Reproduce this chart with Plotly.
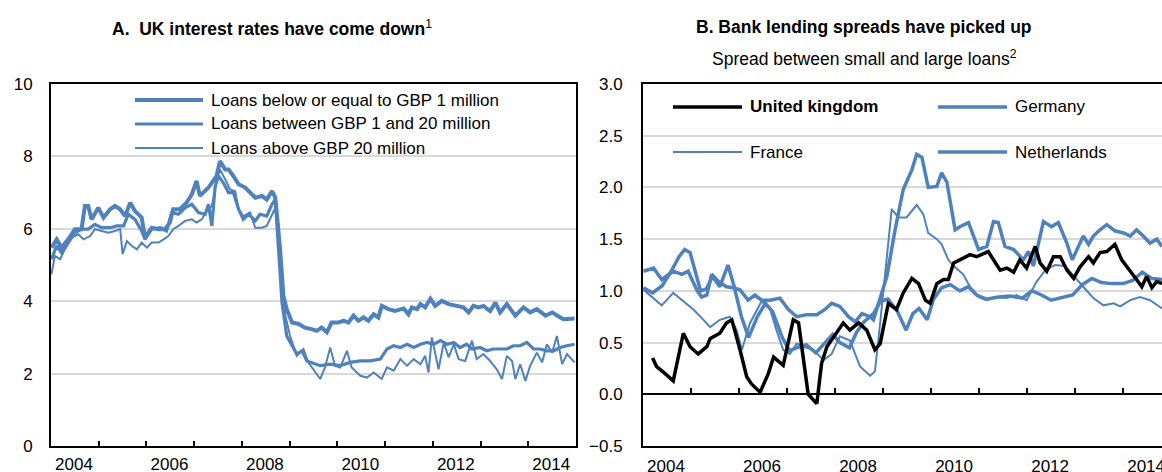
import plotly.graph_objects as go

BLUE = "#4F81BD"
FONT = "Liberation Sans, Arial, sans-serif"

# ---- Panel A: UK interest rates (decimal years, %) ----
below1m_year = [2004.01, 2004.12, 2004.22, 2004.36, 2004.50, 2004.64, 2004.71, 2004.78, 2004.85, 2004.99,
                2005.10, 2005.24, 2005.34, 2005.45, 2005.55, 2005.66, 2005.76, 2005.90, 2005.97, 2006.11,
                2006.25, 2006.39, 2006.49, 2006.56, 2006.70, 2006.84, 2006.95, 2007.05, 2007.12, 2007.30,
                2007.47, 2007.54, 2007.65, 2007.72, 2007.82, 2007.93, 2008.07, 2008.17, 2008.28, 2008.42,
                2008.52, 2008.63, 2008.70, 2008.80, 2008.87, 2008.94, 2009.05, 2009.19, 2009.32, 2009.46,
                2009.57, 2009.67, 2009.78, 2009.88, 2010.02, 2010.13, 2010.23, 2010.34, 2010.44, 2010.55,
                2010.65, 2010.76, 2010.86, 2010.93, 2011.07, 2011.21, 2011.39, 2011.49, 2011.56, 2011.67,
                2011.74, 2011.84, 2011.95, 2012.05, 2012.19, 2012.33, 2012.54, 2012.64, 2012.75, 2012.85,
                2012.96, 2013.06, 2013.20, 2013.31, 2013.41, 2013.55, 2013.73, 2013.90, 2014.04, 2014.18,
                2014.36, 2014.50, 2014.67, 2014.74, 2014.97]
below1m_rate = [5.48, 5.71, 5.48, 5.71, 5.99, 5.99, 6.63, 6.63, 6.26, 6.58,
                6.31, 6.54, 6.63, 6.54, 6.35, 6.72, 6.49, 6.31, 5.76, 6.03,
                5.99, 5.99, 6.17, 6.54, 6.54, 6.72, 6.95, 7.32, 6.91, 7.14,
                7.46, 7.87, 7.64, 7.64, 7.46, 7.23, 7.14, 7.00, 6.86, 6.91,
                6.81, 7.04, 6.86, 5.43, 4.15, 3.78, 3.41, 3.37, 3.27, 3.23,
                3.18, 3.27, 3.14, 3.41, 3.41, 3.46, 3.41, 3.60, 3.46, 3.55,
                3.46, 3.64, 3.55, 3.87, 3.78, 3.73, 3.80, 3.64, 3.83, 3.78,
                3.92, 3.83, 4.07, 3.87, 4.01, 3.92, 3.87, 3.83, 3.69, 3.87,
                3.83, 3.87, 3.73, 3.96, 3.69, 3.92, 3.60, 3.83, 3.69, 3.78,
                3.60, 3.69, 3.55, 3.50, 3.52]

mid_year = [2004.01, 2004.12, 2004.22, 2004.36, 2004.50, 2004.64, 2004.78, 2004.92, 2005.06, 2005.24,
            2005.38, 2005.52, 2005.62, 2005.76, 2005.90, 2005.97, 2006.11, 2006.29, 2006.42, 2006.53,
            2006.67, 2006.81, 2006.95, 2007.09, 2007.23, 2007.30, 2007.37, 2007.44, 2007.51, 2007.61,
            2007.72, 2007.82, 2007.93, 2008.03, 2008.14, 2008.28, 2008.38, 2008.52, 2008.63, 2008.70,
            2008.77, 2008.84, 2008.94, 2009.15, 2009.26, 2009.36, 2009.64, 2009.85, 2010.06, 2010.27,
            2010.48, 2010.69, 2010.90, 2011.04, 2011.18, 2011.32, 2011.46, 2011.60, 2011.74, 2011.88,
            2012.02, 2012.16, 2012.30, 2012.44, 2012.57, 2012.71, 2012.82, 2012.99, 2013.13, 2013.27,
            2013.41, 2013.55, 2013.69, 2013.83, 2013.97, 2014.11, 2014.25, 2014.39, 2014.53, 2014.67,
            2014.81, 2014.97]
mid_rate = [5.16, 5.53, 5.34, 5.62, 5.89, 5.99, 5.99, 6.12, 6.03, 6.03,
            6.08, 6.08, 6.40, 6.26, 5.94, 5.71, 5.99, 6.03, 5.94, 6.45,
            6.40, 6.58, 6.68, 6.45, 6.40, 6.68, 6.08, 7.18, 7.46, 7.27,
            7.00, 7.00, 6.54, 6.26, 6.40, 6.22, 6.40, 6.35, 6.68, 6.81,
            5.43, 3.96, 3.04, 2.54, 2.63, 2.35, 2.22, 2.26, 2.22, 2.31,
            2.35, 2.35, 2.40, 2.68, 2.77, 2.72, 2.81, 2.72, 2.81, 2.86,
            2.81, 2.91, 2.81, 2.86, 2.72, 2.81, 2.68, 2.72, 2.63, 2.68,
            2.68, 2.68, 2.77, 2.77, 2.86, 2.68, 2.68, 2.63, 2.63, 2.72,
            2.77, 2.81]

above20m_year = [2004.01, 2004.08, 2004.19, 2004.29, 2004.43, 2004.57, 2004.68, 2004.82, 2004.92, 2005.06,
                 2005.20, 2005.34, 2005.45, 2005.50, 2005.59, 2005.69, 2005.80, 2005.90, 2006.01, 2006.11,
                 2006.25, 2006.36, 2006.46, 2006.56, 2006.67, 2006.81, 2006.95, 2007.05, 2007.16, 2007.26,
                 2007.37, 2007.47, 2007.54, 2007.65, 2007.75, 2007.86, 2007.93, 2008.03, 2008.17, 2008.28,
                 2008.42, 2008.52, 2008.63, 2008.70, 2008.77, 2008.84, 2008.91, 2009.01, 2009.15, 2009.29,
                 2009.39, 2009.50, 2009.64, 2009.74, 2009.85, 2009.95, 2010.06, 2010.20, 2010.30, 2010.48,
                 2010.62, 2010.76, 2010.93, 2011.04, 2011.18, 2011.32, 2011.46, 2011.60, 2011.74, 2011.84,
                 2011.91, 2011.98, 2012.12, 2012.23, 2012.33, 2012.44, 2012.54, 2012.68, 2012.82, 2012.92,
                 2013.06, 2013.20, 2013.34, 2013.45, 2013.55, 2013.66, 2013.73, 2013.83, 2013.94, 2014.04,
                 2014.18, 2014.29, 2014.39, 2014.50, 2014.60, 2014.71, 2014.81, 2014.97]
above20m_rate = [4.74, 5.25, 5.16, 5.43, 5.76, 5.85, 5.71, 5.80, 5.99, 5.94,
                 5.89, 5.94, 5.99, 5.30, 5.66, 5.53, 5.43, 5.62, 5.48, 5.62,
                 5.62, 5.71, 5.80, 5.99, 6.08, 6.22, 6.26, 6.17, 6.26, 6.49,
                 6.63, 7.32, 7.64, 7.37, 7.09, 7.04, 6.54, 6.35, 6.45, 6.03,
                 6.03, 6.08, 6.40, 6.58, 6.08, 4.51, 3.60, 3.04, 2.49, 2.68,
                 2.31, 2.12, 1.85, 2.17, 2.72, 2.22, 2.17, 2.63, 2.17, 1.94,
                 1.89, 2.03, 1.85, 2.17, 2.08, 2.40, 2.22, 2.40, 2.26, 2.49,
                 2.03, 3.00, 2.12, 2.86, 2.45, 2.81, 2.40, 2.35, 2.91, 2.40,
                 2.54, 2.35, 2.12, 1.85, 2.49, 2.35, 1.85, 2.26, 1.80, 2.22,
                 2.58, 2.31, 2.81, 2.58, 3.04, 2.26, 2.54, 2.31]

# ---- Panel B: spread between small and large loans (decimal years, % pts) ----
uk_year = [2004.20, 2004.28, 2004.46, 2004.63, 2004.84, 2004.98, 2005.15, 2005.33, 2005.40, 2005.60,
           2005.74, 2005.85, 2006.02, 2006.16, 2006.26, 2006.44, 2006.61, 2006.72, 2006.92, 2006.99,
           2007.13, 2007.24, 2007.34, 2007.44, 2007.62, 2007.72, 2007.83, 2007.97, 2008.17, 2008.31,
           2008.49, 2008.66, 2008.83, 2008.94, 2009.11, 2009.28, 2009.42, 2009.60, 2009.74, 2009.88,
           2009.98, 2010.12, 2010.26, 2010.36, 2010.47, 2010.60, 2010.81, 2010.95, 2011.19, 2011.44,
           2011.58, 2011.72, 2011.85, 2011.99, 2012.17, 2012.27, 2012.41, 2012.55, 2012.69, 2012.83,
           2012.97, 2013.10, 2013.28, 2013.38, 2013.52, 2013.66, 2013.83, 2013.97, 2014.11, 2014.28,
           2014.39, 2014.49, 2014.60, 2014.70, 2014.81]
uk_spread = [0.35, 0.27, 0.20, 0.13, 0.59, 0.46, 0.39, 0.46, 0.54, 0.59,
             0.69, 0.72, 0.43, 0.17, 0.10, 0.02, 0.20, 0.36, 0.28, 0.43,
             0.72, 0.69, 0.36, 0.00, -0.09, 0.30, 0.46, 0.56, 0.69, 0.62,
             0.69, 0.62, 0.43, 0.49, 0.88, 0.82, 0.98, 1.12, 1.07, 0.91,
             0.88, 1.07, 1.11, 1.11, 1.27, 1.30, 1.35, 1.33, 1.38, 1.20,
             1.22, 1.18, 1.30, 1.22, 1.43, 1.27, 1.19, 1.33, 1.33, 1.20,
             1.12, 1.23, 1.33, 1.27, 1.37, 1.38, 1.45, 1.30, 1.22, 1.11,
             1.04, 1.14, 1.03, 1.09, 1.07]

de_year = [2004.01, 2004.22, 2004.39, 2004.63, 2004.81, 2004.94, 2005.12, 2005.22, 2005.33, 2005.43,
           2005.57, 2005.74, 2005.88, 2006.02, 2006.19, 2006.33, 2006.47, 2006.65, 2006.85, 2007.03,
           2007.20, 2007.41, 2007.62, 2007.79, 2007.93, 2008.10, 2008.28, 2008.42, 2008.56, 2008.73,
           2008.80, 2009.08, 2009.25, 2009.42, 2009.60, 2009.70, 2009.81, 2009.94, 2010.12, 2010.22,
           2010.33, 2010.50, 2010.60, 2010.78, 2010.99, 2011.16, 2011.30, 2011.40, 2011.54, 2011.72,
           2011.92, 2012.03, 2012.13, 2012.34, 2012.51, 2012.65, 2012.83, 2012.94, 2013.07, 2013.17,
           2013.28, 2013.38, 2013.52, 2013.66, 2013.83, 2014.01, 2014.15, 2014.28, 2014.42, 2014.56,
           2014.70, 2014.81]
de_spread = [1.19, 1.22, 1.11, 1.19, 1.16, 1.19, 1.01, 0.94, 0.96, 1.16,
             1.09, 1.04, 1.03, 1.01, 0.91, 0.96, 0.91, 0.91, 0.93, 0.82,
             0.75, 0.77, 0.77, 0.82, 0.88, 0.85, 0.75, 0.70, 0.78, 0.75,
             0.72, 1.14, 1.59, 1.98, 2.17, 2.32, 2.29, 2.00, 2.01, 2.14,
             2.05, 1.59, 1.62, 1.66, 1.40, 1.43, 1.67, 1.66, 1.43, 1.40,
             1.30, 1.38, 1.24, 1.67, 1.62, 1.66, 1.46, 1.30, 1.43, 1.53,
             1.45, 1.53, 1.59, 1.64, 1.58, 1.56, 1.53, 1.59, 1.53, 1.46,
             1.50, 1.43]

fr_year = [2004.01, 2004.22, 2004.39, 2004.63, 2004.84, 2005.05, 2005.26, 2005.40, 2005.60, 2005.81,
           2005.95, 2006.06, 2006.23, 2006.47, 2006.65, 2006.78, 2006.92, 2007.06, 2007.20, 2007.34,
           2007.55, 2007.76, 2007.93, 2008.10, 2008.31, 2008.52, 2008.73, 2008.83, 2008.94, 2009.08,
           2009.18, 2009.32, 2009.49, 2009.70, 2009.84, 2009.94, 2010.12, 2010.22, 2010.36, 2010.47,
           2010.67, 2010.81, 2010.99, 2011.16, 2011.33, 2011.58, 2011.78, 2011.99, 2012.20, 2012.38,
           2012.58, 2012.79, 2012.97, 2013.17, 2013.38, 2013.59, 2013.80, 2013.94, 2014.15, 2014.35,
           2014.56, 2014.81]
fr_spread = [1.01, 0.93, 0.86, 0.98, 0.90, 0.82, 0.72, 0.65, 0.72, 0.75,
             0.62, 0.43, 0.69, 0.90, 0.82, 0.62, 0.43, 0.39, 0.49, 0.46,
             0.43, 0.33, 0.39, 0.56, 0.52, 0.27, 0.18, 0.22, 0.69, 1.33,
             1.79, 1.71, 1.71, 1.83, 1.74, 1.56, 1.50, 1.45, 1.30, 1.24,
             1.16, 1.04, 0.94, 0.91, 0.94, 0.93, 0.96, 0.91, 1.09, 1.20,
             1.25, 1.24, 1.14, 1.04, 0.93, 0.86, 0.88, 0.85, 0.91, 0.94,
             0.91, 0.83]

nl_year = [2004.01, 2004.20, 2004.40, 2004.60, 2004.75, 2004.87, 2004.98, 2005.08, 2005.20, 2005.32,
           2005.45, 2005.60, 2005.77, 2005.90, 2006.05, 2006.20, 2006.38, 2006.55, 2006.70, 2006.90,
           2007.05, 2007.20, 2007.40, 2007.60, 2007.80, 2007.95, 2008.10, 2008.30, 2008.45, 2008.60,
           2008.80, 2008.95, 2009.10, 2009.30, 2009.48, 2009.62, 2009.75, 2009.92, 2010.05, 2010.22,
           2010.40, 2010.60, 2010.78, 2010.95, 2011.15, 2011.40, 2011.65, 2011.90, 2012.10, 2012.30,
           2012.50, 2012.70, 2012.95, 2013.15, 2013.35, 2013.55, 2013.75, 2014.00, 2014.20, 2014.40,
           2014.60, 2014.81]
nl_spread = [1.03, 0.98, 1.05, 1.20, 1.33, 1.40, 1.37, 1.19, 1.00, 1.02,
             1.14, 1.04, 1.25, 1.04, 0.75, 0.55, 0.75, 0.88, 0.80, 0.55,
             0.42, 0.45, 0.48, 0.40, 0.50, 0.58, 0.50, 0.45, 0.60, 0.70,
             0.78, 0.90, 0.92, 0.80, 0.62, 0.78, 0.83, 0.72, 0.92, 1.03,
             1.06, 1.00, 1.04, 0.96, 0.92, 0.94, 0.95, 0.93, 1.00, 0.96,
             0.91, 0.93, 0.96, 1.06, 1.12, 1.08, 1.07, 1.07, 1.10, 1.18,
             1.12, 1.11]

tick_years = list(range(2004, 2016))
tick_labels = [str(y) if y % 2 == 0 else "" for y in tick_years]

W, H = 1162, 472


def px(x):
    return x / W


def py(y):
    return 1 - y / H


fig = go.Figure()

# Panel A
fig.add_trace(go.Scatter(x=above20m_year, y=above20m_rate, mode="lines", name="Loans above GBP 20 million",
                         line=dict(color=BLUE, width=2), xaxis="x", yaxis="y"))
fig.add_trace(go.Scatter(x=mid_year, y=mid_rate, mode="lines", name="Loans between GBP 1 and 20 million",
                         line=dict(color=BLUE, width=3.2), xaxis="x", yaxis="y"))
fig.add_trace(go.Scatter(x=below1m_year, y=below1m_rate, mode="lines", name="Loans below or equal to GBP 1 million",
                         line=dict(color=BLUE, width=4), xaxis="x", yaxis="y"))

# Panel B
fig.add_trace(go.Scatter(x=fr_year, y=fr_spread, mode="lines", name="France",
                         line=dict(color=BLUE, width=2), xaxis="x2", yaxis="y2"))
fig.add_trace(go.Scatter(x=nl_year, y=nl_spread, mode="lines", name="Netherlands",
                         line=dict(color=BLUE, width=3.5), xaxis="x2", yaxis="y2"))
fig.add_trace(go.Scatter(x=de_year, y=de_spread, mode="lines", name="Germany",
                         line=dict(color=BLUE, width=3.5), xaxis="x2", yaxis="y2"))
fig.add_trace(go.Scatter(x=uk_year, y=uk_spread, mode="lines", name="United kingdom",
                         line=dict(color="black", width=3.5), xaxis="x4", yaxis="y2"))

ydom = [py(446), py(84)]
tickfont = dict(family=FONT, size=17, color="black")

fig.update_layout(
    width=W, height=H, showlegend=False,
    margin=dict(l=0, r=0, t=0, b=0),
    paper_bgcolor="white", plot_bgcolor="white",
    font=dict(family=FONT, color="black"),
    xaxis=dict(domain=[px(51), px(576)], range=[2004, 2015], anchor="y",
               tickmode="array", tickvals=tick_years, ticktext=tick_labels,
               ticks="inside", ticklen=5, tickwidth=2, tickcolor="black",
               ticklabelshift=23, ticklabelstandoff=2, ticklabeloverflow="allow",
               showline=True, linecolor="black", linewidth=2, mirror=True,
               showgrid=False, zeroline=False, tickfont=tickfont, automargin=False),
    yaxis=dict(domain=ydom, range=[0, 10], dtick=2, anchor="x",
               showline=True, linecolor="black", linewidth=2, mirror=True,
               showgrid=True, gridcolor="#D9D9D9", gridwidth=1.5, zeroline=False,
               ticks="", ticklabelstandoff=13, tickfont=tickfont, automargin=False),
    xaxis2=dict(domain=[px(643), 1.0], range=[2004, 2014.81], anchor="y2",
                tickmode="array", tickvals=tick_years, ticktext=tick_labels,
                ticks="", ticklabelshift=23, ticklabelstandoff=4, ticklabeloverflow="allow",
                showline=True, linecolor="black", linewidth=2, mirror=True,
                showgrid=False, zeroline=False, tickfont=tickfont, automargin=False),
    xaxis4=dict(overlaying="x2", anchor="free", position=py(394), range=[2004, 2014.81],
                tickmode="array", tickvals=tick_years, showticklabels=False,
                ticks="inside", ticklen=5, tickwidth=2, tickcolor="black",
                showline=True, linecolor="black", linewidth=1.5,
                showgrid=False, zeroline=False, automargin=False),
    yaxis2=dict(domain=ydom, range=[-0.5, 3.0], dtick=0.5, tickformat=".1f", anchor="x2",
                showline=True, linecolor="black", linewidth=2, mirror=False,
                showgrid=True, gridcolor="#D9D9D9", gridwidth=1.5, zeroline=False,
                ticks="", ticklabelstandoff=15, tickfont=tickfont, automargin=False),
)

# titles
fig.add_annotation(x=px(272), y=py(28), xref="paper", yref="paper", showarrow=False,
                   xanchor="center", yanchor="middle",
                   text="<b>A.  UK interest rates have come down</b><sup>1</sup>",
                   font=dict(family=FONT, size=17.5, color="black"))
fig.add_annotation(x=px(864), y=py(27), xref="paper", yref="paper", showarrow=False,
                   xanchor="center", yanchor="middle",
                   text="<b>B. Bank lending spreads have picked up</b>",
                   font=dict(family=FONT, size=17.5, color="black"))
fig.add_annotation(x=px(864), y=py(58), xref="paper", yref="paper", showarrow=False,
                   xanchor="center", yanchor="middle",
                   text="Spread between small and large loans<sup>2</sup>",
                   font=dict(family=FONT, size=17.5, color="black"))

# hand-placed legends (line sample + label)
legend_items = [
    (135, 203, 100, 4, BLUE, "Loans below or equal to GBP 1 million", False),
    (135, 203, 124, 3.2, BLUE, "Loans between GBP 1 and 20 million", False),
    (135, 203, 148, 2, BLUE, "Loans above GBP 20 million", False),
    (673, 742, 107, 3.5, "black", "United kingdom", True),
    (673, 742, 152, 2, BLUE, "France", False),
    (938, 1007, 107, 3.5, BLUE, "Germany", False),
    (938, 1007, 152, 3.5, BLUE, "Netherlands", False),
]
for x0, x1, yy, w, col, label, bold in legend_items:
    fig.add_shape(type="line", xref="paper", yref="paper", x0=px(x0), x1=px(x1), y0=py(yy), y1=py(yy),
                  line=dict(color=col, width=w))
    fig.add_annotation(x=px(x1 + 6), y=py(yy), xref="paper", yref="paper", showarrow=False,
                       xanchor="left", yanchor="middle", text=f"<b>{label}</b>" if bold else label,
                       font=dict(family=FONT, size=17, color="black"))

fig.write_html("out.html", config={"displayModeBar": False},
               post_script="document.body.style.margin='0';")
